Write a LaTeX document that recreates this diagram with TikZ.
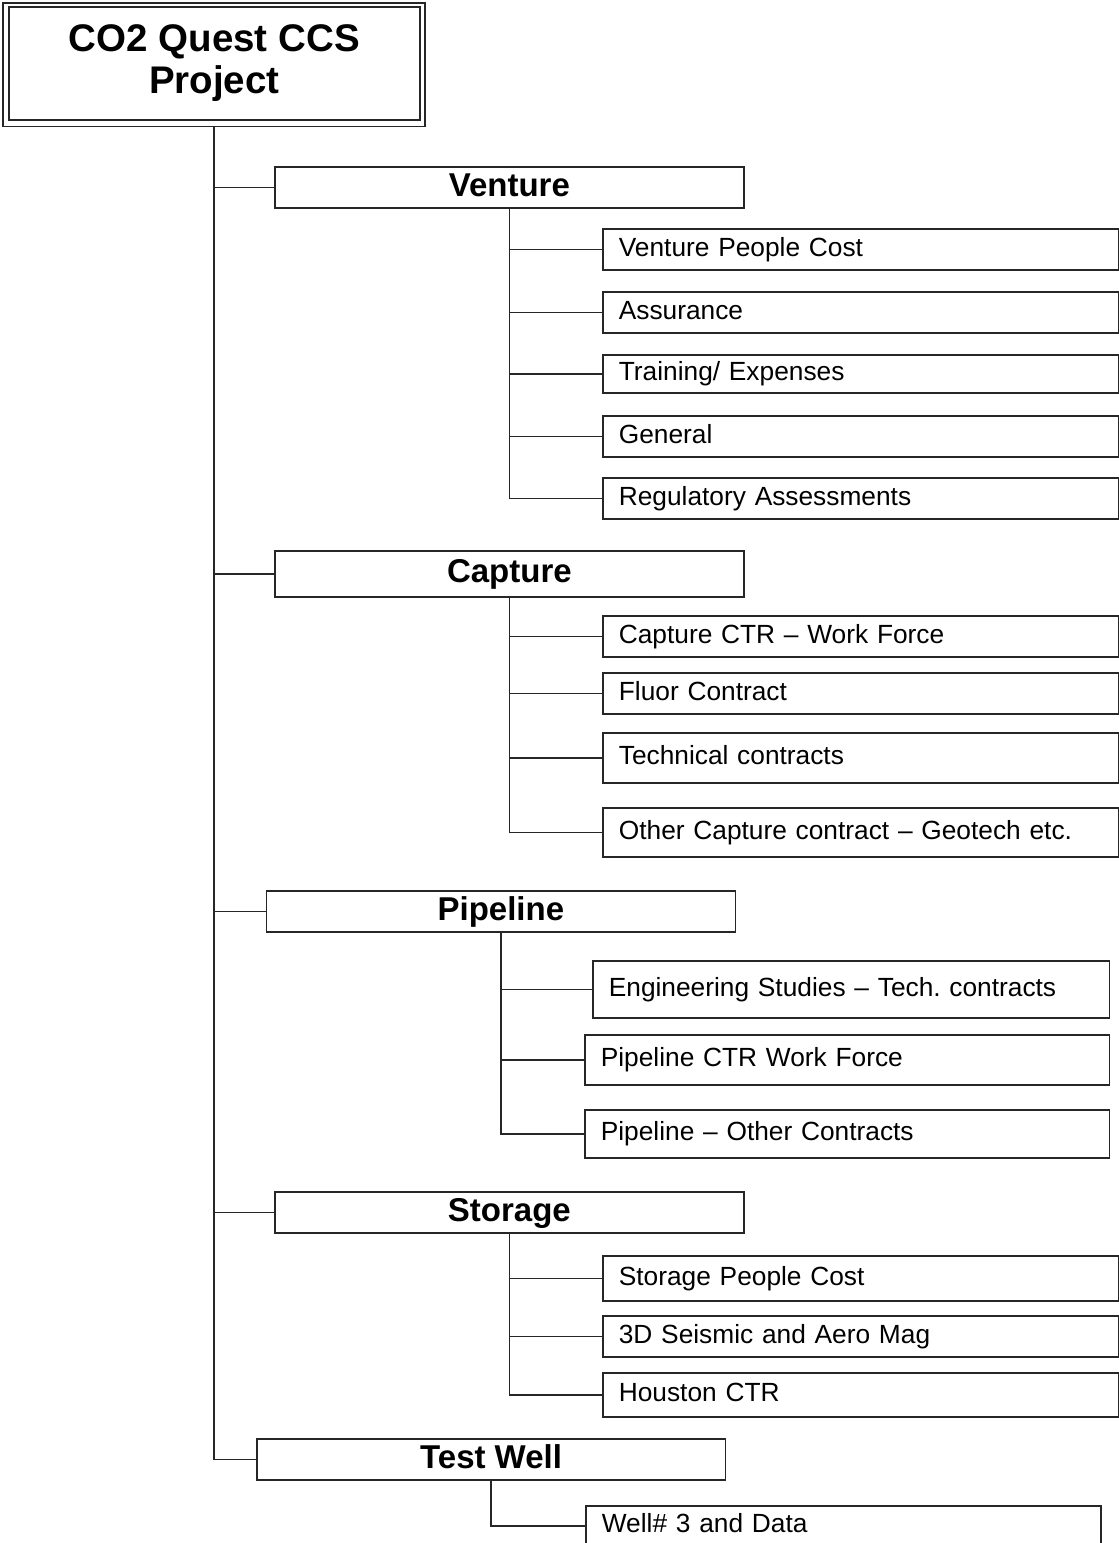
\documentclass[tikz,border=0pt]{standalone}
\usepackage{fontspec}
\setmainfont{Liberation Sans}
\frenchspacing
\begin{document}
\begin{tikzpicture}[x=1pt,y=-1pt,
  lw/.style={line width=1.7pt, draw=black!85},
  rootbox/.style={lw, anchor=north west, inner sep=0pt, align=center,
    font=\fontsize{38.5}{42}\selectfont\bfseries},
  headbox/.style={lw, anchor=north west, minimum width=469pt, minimum height=41pt,
    inner sep=0pt, text height=24pt, text depth=6pt,
    font=\fontsize{33}{36}\selectfont\bfseries},
  itembox/.style={lw, anchor=north west, minimum height=41pt, inner xsep=16pt,
    inner ysep=0pt, text width=#1, align=left, text height=19.5pt, text depth=5.5pt,
    font=\fontsize{26.3}{30}\selectfont},
  itembox/.default=484pt,
  link/.style={line width=1.7pt, draw=black!85}]
\useasboundingbox (0,0) rectangle (1119,1543);
\clip (0,0) rectangle (1119,1543);
\fill[white] (0,0) rectangle (1119,1543);

% root
\node[lw, anchor=north west, minimum width=422pt, minimum height=123.5pt, inner sep=0pt] (rootout) at (2,2) {};
\node[rootbox, minimum width=411pt, minimum height=113pt] (root) at (8,6) {CO2 Quest CCS\\Project};

% level 1
\node[headbox] (venture) at (274,166) {Venture};
\node[headbox, minimum height=46pt] (capture) at (274,550) {Capture};
\node[headbox] (pipeline) at (265.5,890) {Pipeline};
\node[headbox] (storage) at (274,1191) {Storage};
\node[headbox, minimum width=468.5pt] (testwell) at (256,1438) {Test Well};

% venture items
\node[itembox] (vpc) at (602,228) {Venture People Cost};
\node[itembox] (assur) at (602,291) {Assurance};
\node[itembox, minimum height=38pt] (train) at (602,354) {Training/ Expenses};
\node[itembox] (general) at (602,415) {General};
\node[itembox] (regul) at (602,477) {Regulatory Assessments};

% capture items
\node[itembox] (cctr) at (602,615) {Capture CTR -- Work Force};
\node[itembox] (fluor) at (602,672) {Fluor Contract};
\node[itembox, minimum height=50pt] (tech) at (602,732) {Technical contracts};
\node[itembox, minimum height=49pt] (other) at (602,807) {Other Capture contract -- Geotech etc.};

% pipeline items
\node[itembox=484.5pt, minimum height=57pt] (eng) at (592,960) {Engineering Studies -- Tech. contracts};
\node[itembox=492.5pt, minimum height=50pt] (pctr) at (584,1034) {Pipeline CTR Work Force};
\node[itembox=492.5pt, minimum height=48pt] (pother) at (584,1109) {Pipeline -- Other Contracts};

% storage items
\node[itembox, minimum height=45pt] (spc) at (602,1255) {Storage People Cost};
\node[itembox] (seis) at (602,1315) {3D Seismic and Aero Mag};
\node[itembox, minimum height=44pt] (houston) at (602,1372) {Houston CTR};

% test well items
\node[itembox=483pt, minimum height=40pt] (well) at (585,1505) {Well\# 3 and Data};

% connectors
\draw[link] (rootout.south) |- (venture.west);
\draw[link] (rootout.south) |- (capture.west);
\draw[link] (rootout.south) |- (pipeline.west);
\draw[link] (rootout.south) |- (storage.west);
\draw[link] (rootout.south) |- (testwell.west);

\draw[link] (venture.south) |- (vpc.west);
\draw[link] (venture.south) |- (assur.west);
\draw[link] (venture.south) |- (train.west);
\draw[link] (venture.south) |- (general.west);
\draw[link] (venture.south) |- (regul.west);

\draw[link] (capture.south) |- (cctr.west);
\draw[link] (capture.south) |- (fluor.west);
\draw[link] (capture.south) |- (tech.west);
\draw[link] (capture.south) |- (other.west);

\draw[link] (pipeline.south) |- (eng.west);
\draw[link] (pipeline.south) |- (pctr.west);
\draw[link] (pipeline.south) |- (pother.west);

\draw[link] (storage.south) |- (spc.west);
\draw[link] (storage.south) |- (seis.west);
\draw[link] (storage.south) |- (houston.west);

\draw[link] (testwell.south) |- (well.west);
\end{tikzpicture}
\end{document}
